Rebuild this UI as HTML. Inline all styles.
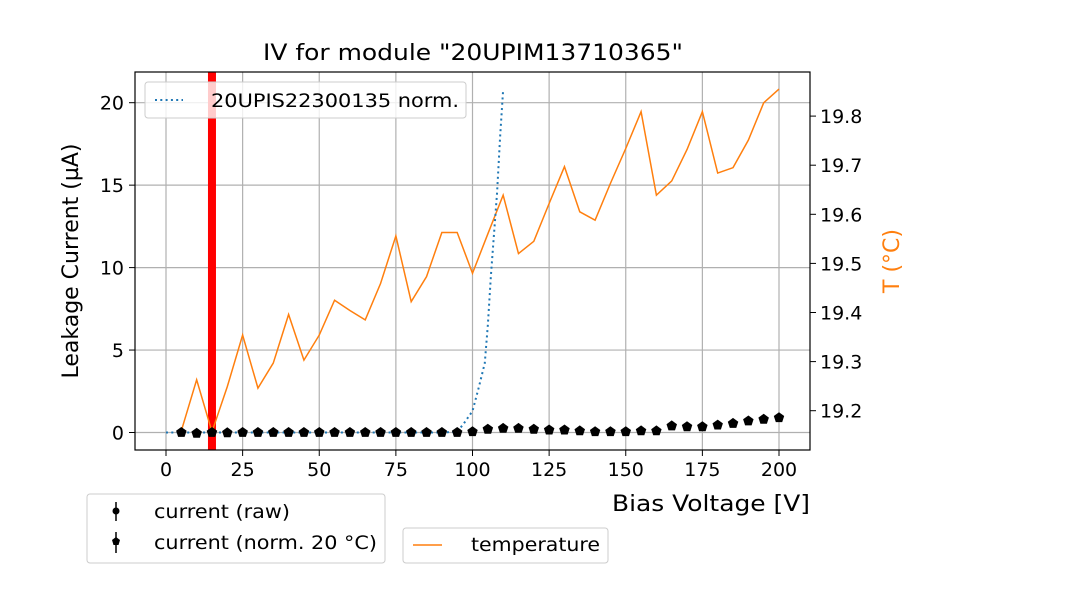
<!DOCTYPE html>
<html><head><meta charset="utf-8"><style>
html,body{margin:0;padding:0;background:#fff;width:1080px;height:600px;overflow:hidden}
svg{display:block;font-family:"DejaVu Sans","Liberation Sans",sans-serif}
</style></head><body>
<svg id="chart" width="1080" height="600" viewBox="0 0 1080 600" xmlns="http://www.w3.org/2000/svg">
<g id="grid"></g>
<g id="marks"></g>
<rect x="135" y="72" width="675" height="378" fill="none" stroke="#000" stroke-width="1.2"/>
<g id="axes"></g>
<text x="473" y="60" font-size="22" text-anchor="middle" textLength="420" lengthAdjust="spacingAndGlyphs">IV for module "20UPIM13710365"</text>
<text x="810" y="511" font-size="22" text-anchor="end" textLength="198" lengthAdjust="spacingAndGlyphs">Bias Voltage [V]</text>
<text transform="translate(78,261) rotate(-90)" font-size="22" text-anchor="middle">Leakage Current (µA)</text>
<text transform="translate(899,261) rotate(-90)" font-size="22" text-anchor="middle" fill="#ff7f0e">T (°C)</text>
<g>
<rect x="145" y="82" width="321" height="36" rx="3" fill="#fff" fill-opacity="0.8" stroke="#ccc"/>
<line x1="155" y1="100" x2="183" y2="100" stroke="#1f77b4" stroke-width="2" stroke-dasharray="2,3.3"/>
<text x="211" y="107" font-size="19" textLength="248" lengthAdjust="spacingAndGlyphs">20UPIS22300135 norm.</text>
</g>
<g>
<rect x="87" y="494" width="298" height="69" rx="3" fill="#fff" stroke="#ccc"/>
<line x1="116" y1="502" x2="116" y2="521" stroke="#000" stroke-width="1.5"/>
<circle cx="116" cy="511" r="3.5" fill="#000"/>
<text x="154" y="518" font-size="19" textLength="136" lengthAdjust="spacingAndGlyphs">current (raw)</text>
<line x1="116" y1="532" x2="116" y2="553" stroke="#000" stroke-width="1.5"/>
<polygon points="116,537 120,540 118.5,545 113.5,545 112,540" fill="#000"/>
<text x="154" y="549" font-size="19" textLength="223" lengthAdjust="spacingAndGlyphs">current (norm. 20 °C)</text>
</g>
<g>
<rect x="403" y="528" width="205" height="35" rx="3" fill="#fff" stroke="#ccc"/>
<line x1="413" y1="545" x2="442" y2="545" stroke="#ff7f0e" stroke-width="1.5"/>
<text x="471" y="551" font-size="19" textLength="129" lengthAdjust="spacingAndGlyphs">temperature</text>
</g>
</svg>
<script>
const voltages=[5,10,15,20,25,30,35,40,45,50,55,60,65,70,75,80,85,90,95,100,105,110,115,120,125,130,135,140,145,150,155,160,165,170,175,180,185,190,195,200];
const temperature=[19.159,19.263,19.157,19.249,19.354,19.246,19.297,19.396,19.303,19.354,19.425,19.404,19.385,19.459,19.556,19.422,19.473,19.563,19.563,19.48,19.56,19.639,19.52,19.545,19.622,19.697,19.605,19.588,19.663,19.734,19.809,19.639,19.668,19.732,19.809,19.684,19.695,19.751,19.827,19.855];
const currentNorm=[0,-0.05,0,-0.02,0,0,0,0,0,0,0,0,0,0,0,0,0,0,0,0.05,0.2,0.25,0.25,0.2,0.15,0.15,0.1,0.05,0.05,0.05,0.1,0.1,0.4,0.35,0.35,0.45,0.55,0.7,0.8,0.9];
const refVoltages=[0,5,10,15,20,25,30,35,40,45,50,55,60,65,70,75,80,85,90,95,97,100,102,104,105,106,107,108,109,110];
const refCurrent=[0,0,0,0,0,0,0,0,0,0,0,0,0,0,0,0,0,0,0,0.05,0.5,1.3,2.7,4.2,6.5,9.5,12,14.5,17.9,20.8];
const xTicks=[0,25,50,75,100,125,150,175,200];
const yTicks=[0,5,10,15,20];
const y2Ticks=[19.2,19.3,19.4,19.5,19.6,19.7,19.8];
const markerV=15;
const NS="http://www.w3.org/2000/svg";
const X=v=>166+(v)*(779-166)/200;
const Y=i=>432.5-i*(432.5-102.7)/20;
const Y2=t=>410.7-(t-19.2)*491;
function mk(tag,attrs,parent){const e=document.createElementNS(NS,tag);for(const k in attrs)e.setAttribute(k,attrs[k]);parent.appendChild(e);return e;}
const grid=document.getElementById('grid'),marks=document.getElementById('marks'),axes=document.getElementById('axes');
xTicks.forEach(v=>{
 const g=mk('line',{x1:X(v),x2:X(v),y1:72,y2:450,stroke:'#b0b0b0','stroke-width':1.2},grid);
 
 
 mk('line',{x1:X(v),x2:X(v),y1:450,y2:456,stroke:'#000'},axes);
 const t=mk('text',{x:X(v),y:476,'font-size':19,'text-anchor':'middle'},axes);t.textContent=v;
 
 
});
yTicks.forEach(v=>{
 const g=mk('line',{x1:135,x2:810,y1:Y(v),y2:Y(v),stroke:'#b0b0b0','stroke-width':1.2},grid);
 
 
 mk('line',{x1:129,x2:135,y1:Y(v),y2:Y(v),stroke:'#000'},axes);
 const t=mk('text',{x:124,y:Y(v)+7,'font-size':19,'text-anchor':'end'},axes);t.textContent=v;
 
 
});
y2Ticks.forEach(v=>{
 mk('line',{x1:810,x2:816,y1:Y2(v),y2:Y2(v),stroke:'#000'},axes);
 const t=mk('text',{x:820,y:Y2(v)+7,'font-size':19},axes);t.textContent=v.toFixed(1);
 
 
});
const red=mk('rect',{x:X(markerV)-4,y:72,width:8,height:378,fill:'#ff0000'},marks);


const tl=mk('polyline',{points:voltages.map((v,i)=>X(v)+','+Y2(temperature[i])).join(' '),fill:'none',stroke:'#ff7f0e','stroke-width':1.5},marks);


const rl=mk('polyline',{points:refVoltages.map((v,i)=>X(v)+','+Math.max(72,Y(refCurrent[i]))).join(' '),fill:'none',stroke:'#1f77b4','stroke-width':2,'stroke-dasharray':'2,3.3'},marks);


voltages.forEach((v,i)=>{
 const cx=X(v),cy=Y(currentNorm[i]);
 const c=mk('circle',{cx:cx,cy:cy,r:3,fill:'#000'},marks);
 
 
 const r=5.5,pts=[];
 for(let k=0;k<5;k++){const a=-Math.PI/2+k*2*Math.PI/5;pts.push((cx+r*Math.cos(a)).toFixed(1)+','+(cy+r*Math.sin(a)).toFixed(1));}
 const p=mk('polygon',{points:pts.join(' '),fill:'#000'},marks);
 
 
});
</script>
</body></html>
